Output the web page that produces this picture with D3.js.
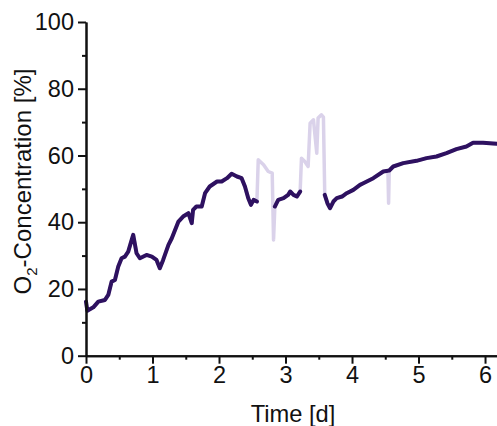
<!DOCTYPE html>
<html>
<head>
  <meta charset="utf-8">
  <title>O2 concentration</title>
  <script src="https://d3js.org/d3.v7.min.js"></script>
  <style>
    body { margin: 0; background: white; }
    svg { display: block; }
    .axis text { font-family: "Liberation Sans", Arial, sans-serif; font-size: 23.5px; fill: #111; }
    .axis path, .axis line { stroke: #111; stroke-width: 2px; }
  </style>
</head>
<body>
<div class="page"></div>
<script>
// time in days, raw O2 reading in percent
var timeDays = [0, 0.02, 0.11, 0.185, 0.285, 0.335, 0.385, 0.435, 0.485, 0.535, 0.585, 0.635, 0.687, 0.71, 0.76, 0.81, 0.91, 0.99,
  1.06, 1.11, 1.16, 1.24, 1.29, 1.39, 1.46, 1.54, 1.59, 1.61, 1.66, 1.74, 1.79, 1.86, 1.97,
  2.04, 2.12, 2.19, 2.27, 2.34, 2.39, 2.44, 2.48, 2.52, 2.57, 2.59, 2.67, 2.74, 2.80, 2.82, 2.84, 2.89, 2.97,
  3.04, 3.07, 3.12, 3.17, 3.22, 3.24, 3.29, 3.34, 3.37, 3.42, 3.47, 3.49, 3.54, 3.57, 3.59, 3.63, 3.67, 3.72, 3.77, 3.85, 3.92,
  4.02, 4.12, 4.17, 4.32, 4.47, 4.54, 4.55, 4.56, 4.62, 4.77, 4.97,
  5.12, 5.27, 5.42, 5.57, 5.72, 5.82, 5.97, 6.12, 6.18];

var o2Raw = [16.2, 13.5, 14.5, 16.2, 16.7, 18.2, 22.2, 22.7, 26.7, 29.2, 29.7, 31.2, 34.7, 36.2, 30.7, 29.2, 30.2, 29.7,
  28.7, 26.2, 28.7, 33.2, 35.2, 40.2, 41.7, 42.7, 39.7, 43.7, 44.7, 44.7, 48.7, 50.7, 52.2,
  52.2, 53.2, 54.5, 53.7, 53.2, 50.7, 47.2, 45.2, 46.7, 46.2, 58.7, 57.2, 55.2, 54.7, 34.7, 44.7, 46.7, 47.2,
  48.2, 49.2, 48.2, 47.7, 49.2, 59.2, 58.2, 56.7, 69.7, 70.7, 60.7, 71.2, 72.2, 71.5, 48.2, 45.7, 44.2, 46.2, 47.2, 47.7, 48.7,
  49.7, 51.2, 51.7, 53.2, 55.2, 55.4, 45.7, 55.5, 56.7, 57.7, 58.4,
  59.2, 59.7, 60.7, 61.9, 62.7, 63.8, 63.8, 63.6, 63.5];

// readings left out of the cleaned trace (shown only in the faint line)
var excludedTimes = [2.59, 2.67, 2.74, 2.80, 2.82, 3.24, 3.29, 3.34, 3.37, 3.42, 3.47, 3.49, 3.54, 3.57, 4.55];

var xTicks = [0, 1, 2, 3, 4, 5, 6];
var yTicks = [0, 20, 40, 60, 80, 100];

var width = 497;
var height = 426;

var data = timeDays.map(function(t, i) {
  return { t: t, raw: o2Raw[i], kept: excludedTimes.indexOf(t) < 0 };
});

var svg = d3.select(".page")
  .append("svg")
  .attr("width", width)
  .attr("height", height);

var x = d3.scaleLinear().domain([0, 6.18]).range([86, 497]);
var y = d3.scaleLinear().domain([0, 100]).range([355.7, 22]);

// raw trace underneath
var rawLine = d3.line()
  .x(function(d) { return x(d.t); })
  .y(function(d) { return y(d.raw); });

svg.append("path")
  .datum(data)
  .attr("fill", "none")
  .attr("stroke", "#dad2ea")
  .attr("stroke-width", 3.5)
  .attr("stroke-linejoin", "round")
  .attr("d", rawLine);

// cleaned trace on top
var keptLine = d3.line()
  .defined(function(d) { return d.kept; })
  .x(function(d) { return x(d.t); })
  .y(function(d) { return y(d.raw); });

svg.append("path")
  .datum(data)
  .attr("fill", "none")
  .attr("stroke", "#2e1160")
  .attr("stroke-width", 4)
  .attr("stroke-linejoin", "round")
  .attr("stroke-linecap", "round")
  .attr("d", keptLine);

// minor ticks
svg.append("g")
  .attr("class", "axis")
  .attr("transform", "translate(86,0)")
  .call(d3.axisLeft(y).tickValues([10, 30, 50, 70, 90]).tickSize(4).tickFormat("").tickSizeOuter(0));

svg.append("g")
  .attr("class", "axis")
  .attr("transform", "translate(0,355.7)")
  .call(d3.axisBottom(x).tickValues([0.5, 1.5, 2.5, 3.5, 4.5, 5.5]).tickSize(4).tickFormat("").tickSizeOuter(0));

// major ticks + labels
svg.append("g")
  .attr("class", "axis")
  .attr("transform", "translate(86,0)")
  .call(d3.axisLeft(y).tickValues(yTicks).tickSize(8).tickPadding(4).tickSizeOuter(0));

svg.append("g")
  .attr("class", "axis")
  .attr("transform", "translate(0,355.7)")
  .call(d3.axisBottom(x).tickValues(xTicks).tickSize(8).tickPadding(3).tickFormat(d3.format("d")).tickSizeOuter(0));

svg.selectAll(".axis .domain").attr("stroke-width", 2.2);

// axis titles
var yTitle = svg.append("text")
  .attr("transform", "translate(31,181.5) rotate(-90)")
  .attr("text-anchor", "middle")
  .style("font-family", "Liberation Sans, Arial, sans-serif")
  .style("font-size", "24px")
  .attr("fill", "#111");
yTitle.append("tspan").text("O");
yTitle.append("tspan").attr("dy", 6).style("font-size", "15px").text("2");
yTitle.append("tspan").attr("dy", -6).text("-Concentration [%]");

svg.append("text")
  .attr("x", 293)
  .attr("y", 421.5)
  .attr("text-anchor", "middle")
  .style("font-family", "Liberation Sans, Arial, sans-serif")
  .style("font-size", "23.7px")
  .attr("fill", "#111")
  .text("Time [d]");
</script>
</body>
</html>
